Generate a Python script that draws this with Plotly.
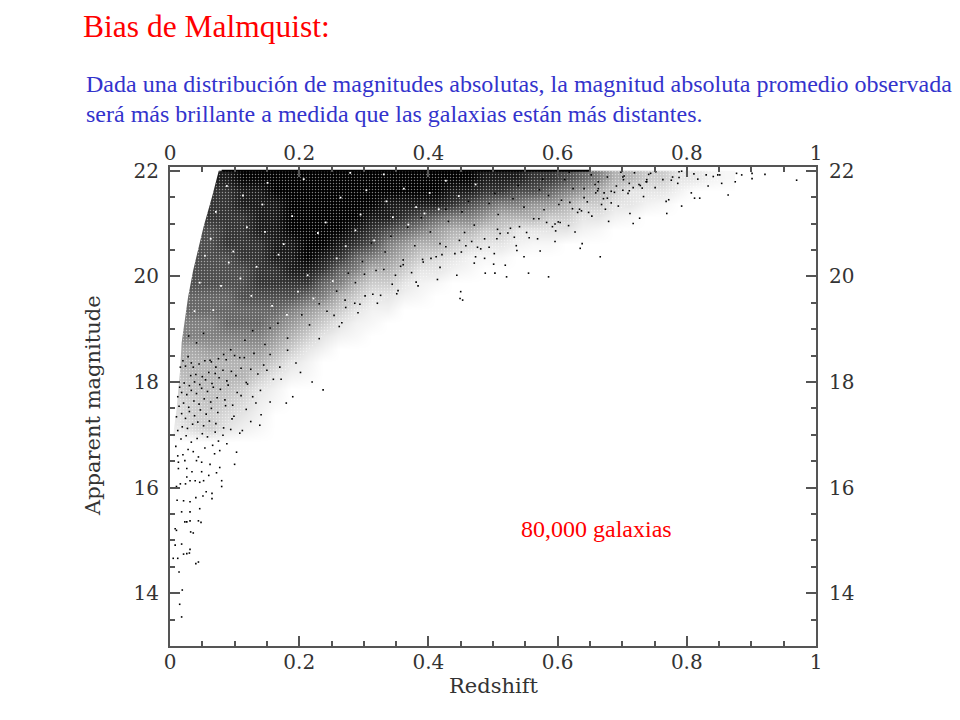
import plotly.graph_objects as go

# binned darkness of the point cloud, 0 = empty, 10 = solid
z_bins = [.0125, .0375, .0625, .0875, .1125, .1375, .1625, .1875, .2125, .2375, .2625, .2875, .3125, .3375, .3625, .3875, .4125, .4375,
          .4625, .4875, .5125, .5375, .5625, .5875, .6125, .6375, .6625, .6875, .7125, .7375, .7625, .7875, .8125, .8375, .8625]
mag_bins = [16.875, 17.125, 17.375, 17.625, 17.875, 18.125, 18.375, 18.625, 18.875, 19.125, 19.375,
            19.625, 19.875, 20.125, 20.375, 20.625, 20.875, 21.125, 21.375, 21.625, 21.875]
density = [
    [0, 0, 0, 0, 0, 0, 0, 0, 0, 0, 0, 0, 0, 0, 0, 0, 0, 0, 0, 0, 0, 0, 0, 0, 0, 0, 0, 0, 0, 0, 0, 0, 0, 0, 0],
    [.8, 1.5, 2, 1, .6, .3, 0, 0, 0, 0, 0, 0, 0, 0, 0, 0, 0, 0, 0, 0, 0, 0, 0, 0, 0, 0, 0, 0, 0, 0, 0, 0, 0, 0, 0],
    [1.2, 2, 2, 1.5, 1, .5, 0, 0, 0, 0, 0, 0, 0, 0, 0, 0, 0, 0, 0, 0, 0, 0, 0, 0, 0, 0, 0, 0, 0, 0, 0, 0, 0, 0, 0],
    [1.5, 2, 2.5, 2, 1.5, .7, .3, 0, 0, 0, 0, 0, 0, 0, 0, 0, 0, 0, 0, 0, 0, 0, 0, 0, 0, 0, 0, 0, 0, 0, 0, 0, 0, 0, 0],
    [2, 2.5, 2.5, 2.5, 2, 1, .5, 0, 0, 0, 0, 0, 0, 0, 0, 0, 0, 0, 0, 0, 0, 0, 0, 0, 0, 0, 0, 0, 0, 0, 0, 0, 0, 0, 0],
    [2.5, 3, 3, 3, 3, 2, 1, .5, .3, 0, 0, 0, 0, 0, 0, 0, 0, 0, 0, 0, 0, 0, 0, 0, 0, 0, 0, 0, 0, 0, 0, 0, 0, 0, 0],
    [3, 3, 3, 3, 3, 3, 2, 1, .5, 0, 0, 0, 0, 0, 0, 0, 0, 0, 0, 0, 0, 0, 0, 0, 0, 0, 0, 0, 0, 0, 0, 0, 0, 0, 0],
    [3.5, 3.5, 4, 4, 4, 4, 3, 2, 1, .5, 0, 0, 0, 0, 0, 0, 0, 0, 0, 0, 0, 0, 0, 0, 0, 0, 0, 0, 0, 0, 0, 0, 0, 0, 0],
    [5, 5, 5, 5, 5, 5, 4, 3, 2, 1, .5, .3, 0, 0, 0, 0, 0, 0, 0, 0, 0, 0, 0, 0, 0, 0, 0, 0, 0, 0, 0, 0, 0, 0, 0],
    [5, 5, 5, 6, 6, 6, 5, 4, 3, 2, 1, .5, .3, 0, 0, 0, 0, 0, 0, 0, 0, 0, 0, 0, 0, 0, 0, 0, 0, 0, 0, 0, 0, 0, 0],
    [6, 6, 6, 6, 6, 6, 6, 5, 4, 3, 2, 1, .5, .5, 0, 0, 0, 0, 0, 0, 0, 0, 0, 0, 0, 0, 0, 0, 0, 0, 0, 0, 0, 0, 0],
    [6, 6, 6, 6, 7, 7, 7, 7, 6, 5, 3, 2, 1, 1, .5, .3, 0, 0, 0, 0, 0, 0, 0, 0, 0, 0, 0, 0, 0, 0, 0, 0, 0, 0, 0],
    [7, 7, 7, 7, 7, 8, 8, 8, 8, 6, 5, 3, 2, 2, 1, .5, .3, 0, 0, 0, 0, 0, 0, 0, 0, 0, 0, 0, 0, 0, 0, 0, 0, 0, 0],
    [7, 7, 7, 7, 7, 8, 8, 9, 9, 8, 6, 5, 3, 3, 2, 1, 1, .5, .3, 0, 0, 0, 0, 0, 0, 0, 0, 0, 0, 0, 0, 0, 0, 0, 0],
    [7, 7, 7, 7, 8, 8, 9, 9, 10, 9, 8, 6, 5, 4, 3, 2, 1.5, 1, .5, .3, .3, 0, 0, 0, 0, 0, 0, 0, 0, 0, 0, 0, 0, 0, 0],
    [7, 7, 7, 8, 8, 8, 9, 9, 10, 10, 9, 8, 7, 5, 4, 3, 3, 2, 1.5, 1, 1, .5, .3, .3, 0, 0, 0, 0, 0, 0, 0, 0, 0, 0, 0],
    [7, 7, 7, 8, 8, 9, 9, 10, 10, 10, 10, 9, 8, 7, 6, 5, 4, 3, 3, 2, 2, 1, 1, 1, 1, .5, .3, 0, 0, 0, 0, 0, 0, 0, 0],
    [8, 8, 8, 8, 8, 9, 9, 10, 10, 10, 10, 10, 9, 9, 8, 7, 6, 5, 5, 4, 3, 3, 3, 2, 2, 1, 1, .5, .3, 0, 0, 0, 0, 0, 0],
    [8, 8, 8, 8, 9, 9, 9, 10, 10, 10, 10, 10, 10, 9, 9, 9, 9, 8, 7, 6, 5, 5, 4, 4, 3, 2, 2, 1, 1, .5, .3, 0, 0, 0, 0],
    [8, 8, 8, 8, 9, 9, 10, 10, 10, 10, 10, 10, 10, 10, 10, 10, 10, 9, 9, 8, 8, 7, 7, 6, 5, 4, 3, 2, 1, 1, 1, .5, 0, 0, 0],
    [9, 9, 9, 9, 10, 10, 10, 10, 10, 10, 10, 10, 10, 10, 10, 10, 10, 10, 10, 9, 9, 9, 8, 8, 7, 6, 5, 3, 3, 2, 2, 1, 1, .5, .3],
]

# left limit of the cloud: nothing is seen at lower redshift than this
edge_z = [0, 0.077, 0.065, 0.052, 0.036, 0.028, 0.018, 0.0155, 0.01, 0.004, 0]
edge_mag = [22.07, 22.07, 21.5, 20.94, 20.12, 19.61, 18.74, 18.2, 17.47, 16.9, 16.7]

# outline of the grainy part of the cloud
cloud_z = [0.077, 0.052, 0.036, 0.028, 0.018, 0.01, 0.06, 0.16, 0.25, 0.40, 0.55, 0.70, 0.85, 0.85]
cloud_mag = [22, 20.94, 20.12, 19.61, 18.74, 16.8, 16.8, 18.0, 19.0, 20.0, 20.7, 21.3, 21.8, 22]

# saturated row at the magnitude limit
limit_z = [0.08, 0.65]
limit_mag = [22.0, 22.0]

# single galaxies, bright end
bright_z = [.018, .015, .019, .014, .005, .012, .040, .044, .021, .026, .030, .031, .018, .008, .010, .008, .032, .036, .023, .026,
            .044, .048, .031, .018, .031, .046, .011, .021, .031, .040, .051, .056, .065, .065, .010, .016, .024, .031, .039, .046,
            .052, .080, .080, .060, .072, .026, .013, .026, .034, .049, .062, .077, .100, .103, .077, .069, .041, .049, .023, .013,
            .012, .020, .028, .036, .044, .054, .066, .075, .088, .009, .017, .025, .033, .042, .050, .058, .070, .082, .094, .108,
            .012, .019, .027, .035, .043, .052, .061, .071, .083, .096, .112, .125, .139, .010, .018, .024, .030, .038, .047, .056,
            .064, .074, .086, .099, .118, .133, .141, .014, .021, .029, .037, .045, .053, .063, .073, .085, .097, .110, .128, .155,
            .180, .190, .220, .237, .012, .018, .026, .033, .041, .049, .058, .067, .078, .090, .104, .120, .140, .160, .015, .022,
            .030, .038, .046, .055, .065, .076, .088, .102, .118, .136, .150, .172, .202, .016, .024, .032, .040, .050, .060, .070,
            .082, .095, .110, .125, .145, .170, .195, .020, .028, .036, .045, .054, .064, .075, .087, .100, .115, .130, .155, .182]
bright_mag = [13.55, 13.79, 14.06, 14.40, 14.66, 14.66, 14.56, 14.59, 14.74, 14.75, 14.76, 14.83, 14.93, 14.91, 15.19, 15.22, 15.16, 15.14, 15.35, 15.35,
              15.37, 15.34, 15.37, 15.54, 15.54, 15.60, 15.76, 15.75, 15.73, 15.81, 15.84, 15.92, 15.89, 15.79, 16.02, 16.07, 16.07, 16.13, 16.13, 16.10,
              16.13, 16.02, 16.13, 16.23, 16.28, 16.20, 16.36, 16.36, 16.30, 16.30, 16.44, 16.38, 16.44, 16.67, 16.70, 16.64, 16.51, 16.48, 16.51, 16.48,
              16.60, 16.62, 16.72, 16.68, 16.58, 16.75, 16.80, 16.88, 16.83, 16.78, 16.92, 16.98, 16.86, 16.93, 17.02, 16.96, 17.05, 16.99, 17.10, 17.03,
              17.08, 17.15, 17.12, 17.20, 17.24, 17.17, 17.26, 17.21, 17.13, 17.30, 17.08, 17.25, 17.18, 17.34, 17.40, 17.31, 17.44, 17.36, 17.47, 17.39,
              17.50, 17.42, 17.55, 17.35, 17.48, 17.60, 17.38, 17.54, 17.60, 17.52, 17.64, 17.58, 17.68, 17.62, 17.70, 17.66, 17.56, 17.74, 17.72, 17.62,
              17.60, 17.72, 18.00, 17.85, 17.72, 17.80, 17.76, 17.84, 17.78, 17.88, 17.82, 17.90, 17.86, 17.94, 17.80, 17.96, 17.84, 18.05, 17.90, 17.98,
              17.93, 18.00, 17.95, 18.04, 17.97, 18.08, 18.02, 18.12, 17.99, 18.15, 18.22, 18.05, 18.18, 18.28, 18.30, 18.12, 18.14, 18.10, 18.18, 18.16, 18.22,
              18.20, 18.26, 18.24, 18.32, 18.28, 18.36, 18.40, 18.48, 18.28, 18.34, 18.40, 18.38, 18.44, 18.42, 18.50, 18.46, 18.54, 18.52, 18.60, 18.58, 18.68]

# single galaxies, faint far end
far_z = [.970, .921, .901, .901, .885, .877, .875, .864, .854, .851, .841, .830, .820, .812, .792, .769, .727, .717, .666, .635,
         .586, .555, .521, .503, .488, .519, .501, .450, .453, .449, .548, .573, .638, .471, .458, .487, .506, .537, .552, .596,
         .604, .627, .648, .679, .683, .712, .731, .768, .776, .807, .811, .833, .848, .772, .763, .733, .728, .694, .688, .653,
         .646, .617, .662, .668, .702, .709, .741, .751, .786, .788, .817, .738, .719, .711, .677, .671, .641, .634, .606, .601,
         .571, .569, .541, .536, .511, .502, .476, .473, .451, .444, .421, .414, .391, .384, .361, .353, .331, .326, .301, .294,
         .271, .266, .427, .418, .404, .381, .374, .351, .344, .321, .314, .291, .286, .262, .254, .231, .579, .592, .619, .631,
         .658, .672, .698, .711, .738, .752, .778, .792, .583, .597, .623, .637, .663, .677, .703, .717, .467, .494, .507, .533]
far_mag = [21.82, 21.93, 21.85, 21.95, 21.92, 21.95, 21.79, 21.54, 21.76, 21.92, 21.89, 21.92, 21.48, 21.48, 21.33, 21.19, 21.10, 21.00, 20.37, 20.53,
           19.99, 20.06, 19.99, 20.06, 20.06, 20.21, 20.23, 19.71, 19.55, 19.58, 20.37, 20.48, 20.62, 20.25, 20.58, 20.34, 20.71, 20.49, 20.83, 20.66,
           21.02, 20.84, 21.21, 21.04, 21.39, 21.19, 21.67, 21.42, 21.82, 21.58, 21.94, 21.71, 21.92, 21.45, 21.83, 21.51, 21.72, 21.33, 21.59, 21.14,
           21.41, 20.96, 21.62, 21.36, 21.83, 21.57, 21.93, 21.68, 21.76, 21.98, 21.84, 21.79, 21.96, 21.62, 21.88, 21.47, 21.66, 21.27, 21.44, 21.03,
           21.09, 20.71, 20.94, 20.58, 20.81, 20.43, 20.55, 20.37, 20.46, 20.02, 20.41, 19.94, 20.32, 19.82, 20.22, 19.73, 20.13, 19.64, 20.04, 19.47,
           19.55, 19.12, 20.56, 20.17, 20.34, 19.89, 20.07, 19.67, 19.85, 19.49, 19.66, 19.31, 19.49, 19.05, 19.26, 18.82, 21.26, 20.94, 21.40, 21.21,
           21.74, 21.58, 21.97, 21.76, 21.83, 21.98, 21.88, 21.99, 21.02, 20.86, 21.28, 21.24, 21.66, 21.48, 21.90, 21.68, 20.66, 20.55, 20.89, 20.74]

# pale gaps inside the dark part of the cloud
gap_z = [.088, .143, .207, .119, .264, .331, .176, .402, .071, .229, .295, .151, .362, .098, .258, .427, .189, .063, .316, .134,
         .381, .241, .109, .473, .168, .287, .054, .345, .213, .126, .447, .079, .198, .304, .158, .416, .046, .272, .113, .369,
         .222, .091, .335, .181, .038, .252, .147, .394, .067, .279]
gap_mag = [21.71, 21.36, 21.84, 20.93, 21.49, 21.93, 20.61, 21.58, 21.22, 20.82, 21.17, 21.77, 21.66, 20.47, 20.34, 21.81, 21.14, 20.71, 20.68, 20.18,
           21.31, 21.02, 19.96, 21.74, 20.41, 20.87, 20.39, 21.12, 20.02, 19.63, 21.52, 19.82, 19.71, 21.63, 19.44, 21.27, 19.88, 20.57, 21.53, 20.98,
           19.58, 20.26, 21.42, 19.27, 19.34, 19.91, 20.84, 21.19, 19.36, 21.96]

# scattered dark grains in the paler part
grain_z = [.033, .147, .071, .216, .108, .052, .182, .094, .243, .128, .041, .167, .083, .204, .062, .231, .116, .029, .155, .272,
           .302, .258, .349, .287, .392, .319, .441, .361, .276, .418, .333, .487, .298, .379, .456, .342, .527, .403, .312, .471,
           .563, .431, .368, .508, .602, .452, .389, .548, .641, .494, .427, .586, .683, .531, .462, .624, .726, .572, .503, .663,
           .611, .539, .701, .652, .577, .744, .691, .618, .788, .737, .659, .701, .448, .523, .596, .674, .357, .412, .481, .556]
grain_mag = [18.36, 18.71, 18.28, 19.08, 18.46, 18.92, 18.83, 18.61, 19.34, 18.97, 18.74, 19.11, 18.52, 19.27, 18.41, 19.48, 18.79, 18.87, 19.02, 19.41,
             19.63, 19.72, 20.02, 19.88, 20.27, 20.11, 20.43, 20.31, 20.06, 20.62, 20.46, 20.71, 20.28, 20.58, 20.83, 20.76, 20.91, 20.84, 20.63, 20.97,
             21.09, 21.04, 20.93, 21.17, 21.36, 21.22, 21.11, 21.31, 21.49, 21.38, 21.27, 21.53, 21.61, 21.47, 21.42, 21.66, 21.74, 21.64, 21.57, 21.79,
             21.83, 21.72, 21.88, 21.92, 21.84, 21.95, 21.71, 21.97, 21.87, 21.79, 21.58, 21.63, 20.68, 20.82, 20.99, 21.27, 20.19, 20.37, 20.52, 20.73]

x_ticks = [0, 0.2, 0.4, 0.6, 0.8, 1]
x_tick_text = ['0', '0.2', '0.4', '0.6', '0.8', '1']
y_ticks = [14, 16, 18, 20, 22]

DOT = dict(color='black', size=1.6, symbol='square', line=dict(width=0))
TICK_FONT = dict(family='DejaVu Serif', size=20, color='#333333')
TITLE_FONT = dict(family='DejaVu Serif', size=21, color='#333333')
INK = '#555555'
W, H = 960.0, 720.0

fig = go.Figure()
fig.add_trace(go.Heatmap(x=z_bins, y=mag_bins, z=density, zmin=0, zmax=10, zsmooth='best', showscale=False,
                         colorscale=[[0, 'white'], [1, 'black']], hoverinfo='skip'))
fig.add_trace(go.Scatter(x=cloud_z, y=cloud_mag, mode='lines', line=dict(width=0), fill='toself', hoverinfo='skip',
                         fillcolor='rgba(0,0,0,0)',
                         fillpattern=dict(shape='.', fgcolor='white', bgcolor='rgba(0,0,0,0)', size=3, solidity=0.18)))
fig.add_trace(go.Scatter(x=edge_z, y=edge_mag, mode='lines', line=dict(width=0), fill='toself', fillcolor='white', hoverinfo='skip'))
fig.add_trace(go.Scatter(x=limit_z, y=limit_mag, mode='lines', line=dict(color='black', width=2)))
fig.add_trace(go.Scatter(x=gap_z, y=gap_mag, mode='markers', marker=dict(color='white', size=1.8, symbol='square', line=dict(width=0))))
fig.add_trace(go.Scatter(x=grain_z, y=grain_mag, mode='markers', marker=DOT))
fig.add_trace(go.Scatter(x=bright_z, y=bright_mag, mode='markers', marker=DOT))
fig.add_trace(go.Scatter(x=far_z, y=far_mag, mode='markers', marker=DOT))
# second pair of axes only carries the top and right tick labels
fig.add_trace(go.Scatter(x=[0], y=[14], xaxis='x2', yaxis='y2', mode='markers', marker=dict(opacity=0)))


def axis(dtick, standoff, **kw):
    return dict(showgrid=False, zeroline=False, showline=True, linecolor=INK, linewidth=2, automargin=False,
                ticks='inside', ticklen=10, tickwidth=2, tickcolor=INK, tickfont=TICK_FONT, ticklabelstandoff=standoff,
                minor=dict(dtick=dtick, ticks='inside', ticklen=5, tickcolor=INK, tickwidth=2), **kw)


x_dom = [170 / W, 816 / W]
y_dom = [1 - 646 / H, 1 - 167 / H]
x_range = [0, 1]
y_range = [13, 22.07]
fig.update_layout(
    width=960, height=720, margin=dict(l=0, r=0, t=0, b=0),
    paper_bgcolor='white', plot_bgcolor='white', showlegend=False,
    xaxis=axis(0.05, -3, domain=x_dom, range=x_range, tickvals=x_ticks, ticktext=x_tick_text),
    yaxis=axis(0.5, 5, domain=y_dom, range=y_range, tickvals=y_ticks),
    xaxis2=axis(0.05, -3, domain=x_dom, range=x_range, tickvals=x_ticks, ticktext=x_tick_text,
                overlaying='x', side='top', anchor='y2'),
    yaxis2=axis(0.5, 7, domain=y_dom, range=y_range, tickvals=y_ticks,
                overlaying='y', side='right', anchor='x2'),
)


def label(text, px, py, size, color):
    return dict(text=text, x=px / W, y=1 - py / H, xref='paper', yref='paper', xanchor='left', yanchor='middle',
                showarrow=False, font=dict(family='Liberation Serif', size=size, color=color))


def axis_label(text, px, py, angle=0):
    return dict(text=text, x=px / W, y=1 - py / H, xref='paper', yref='paper', xanchor='center', yanchor='middle',
                showarrow=False, textangle=angle, font=TITLE_FONT)


fig.update_layout(annotations=[
    label('Bias de Malmquist:', 81, 27, 31.5, '#ff0000'),
    label('Dada una distribución de magnitudes absolutas, la magnitud absoluta promedio observada', 84, 84, 24, '#3333cc'),
    label('será más brillante a medida que las galaxias están más distantes.', 84, 114, 24, '#3333cc'),
    label('80,000 galaxias', 519, 529, 24, '#ff0000'),
    axis_label('Redshift', 493, 686),
    axis_label('Apparent magnitude', 93, 406, -90),
])
fig.write_html("out.html", post_script="document.body.style.margin = '0';", config=dict(displayModeBar=False))
